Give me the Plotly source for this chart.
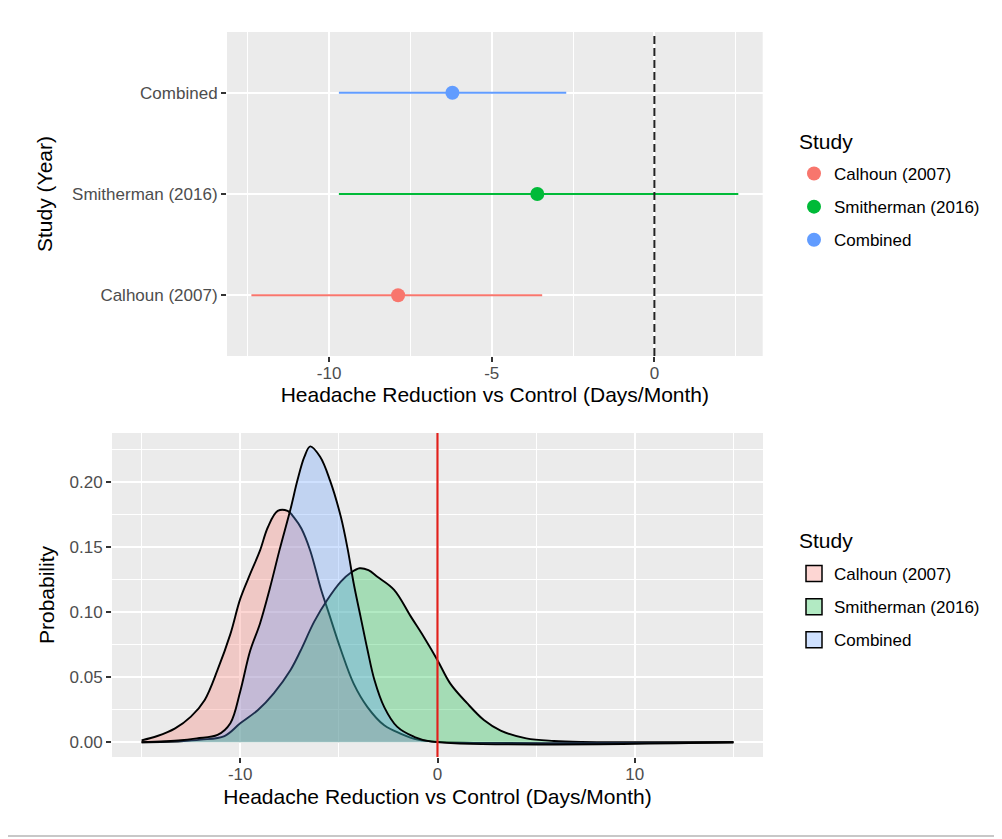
import plotly.graph_objects as go

# ---------------- data ----------------
studies = ["Calhoun (2007)", "Smitherman (2016)", "Combined"]
line_colors = ["#F8766D", "#00BA38", "#619CFF"]
fill_colors = ["rgba(248,118,109,0.30)", "rgba(0,186,56,0.30)", "rgba(97,156,255,0.30)"]

estimate = [-7.88, -3.60, -6.21]
ci_low = [-12.39, -9.70, -9.70]
ci_high = [-3.45, 2.58, -2.71]

calhoun_x = [-15, -14.2, -13.3, -12.5, -11.8, -11.15, -10.5, -10.0, -9.5, -9.0, -8.6, -8.1,
             -7.6, -7.25, -6.9, -6.45, -5.9, -5.55, -4.9, -4.25, -3.55, -2.7, -1.85, -1.0, 0, 15]
calhoun_y = [0.0015, 0.0048, 0.0107, 0.0197, 0.0325, 0.0555, 0.083, 0.110, 0.129, 0.147, 0.165, 0.1775,
             0.1775, 0.172, 0.164, 0.147, 0.117, 0.101, 0.071, 0.045, 0.027, 0.013, 0.0065, 0.002, 0.0003, 0.0]

smitherman_x = [-15, -13, -12, -10.8, -10.0, -9.1, -8.3, -7.45, -6.95, -6.25, -5.6, -4.9,
                -4.4, -3.95, -3.5, -3.05, -2.2, -1.35, -0.7, 0, 0.65, 1.5, 2.35, 3.2, 4.5, 5.9, 7.3, 15]
smitherman_y = [0.0, 0.0008, 0.002, 0.0048, 0.0146, 0.0248, 0.0376, 0.0555, 0.070, 0.0926, 0.109, 0.1233,
                0.130, 0.1335, 0.132, 0.127, 0.117, 0.0964, 0.081, 0.063, 0.045, 0.030, 0.0171, 0.009,
                0.003, 0.001, 0.0003, 0.0]

combined_x = [-15, -13, -12.2, -11.15, -10.5, -10.0, -9.5, -9.0, -8.5, -8.0, -7.45, -7.1,
              -6.75, -6.45, -5.95, -5.45, -4.9, -4.55, -4.25, -3.9, -3.55, -3.2, -2.7, -2.05,
              -1.2, -0.3, 15]
combined_y = [0.0, 0.0015, 0.003, 0.0056, 0.0146, 0.039, 0.070, 0.091, 0.118, 0.148, 0.179, 0.201,
              0.219, 0.227, 0.219, 0.201, 0.173, 0.148, 0.122, 0.0964, 0.071, 0.048, 0.027, 0.012,
              0.0043, 0.0005, 0.0]

density_x = [calhoun_x, smitherman_x, combined_x]
density_y = [calhoun_y, smitherman_y, combined_y]

x_title = "Headache Reduction vs Control (Days/Month)"
legend_title = "Study"
ref_line_x = 0

# ---------------- figure ----------------
OFF = 8  # page body margin of the html page
W, H = 994, 831
FONT = "Liberation Sans, Arial, sans-serif"


def px_x(p):
    return (p - OFF) / W


def px_y(p):
    return 1 - (p - OFF) / H


fig = go.Figure()

# top: point ranges
for i, s in enumerate(studies):
    fig.add_trace(go.Scatter(
        x=[estimate[i]], y=[s], mode="markers", name=s,
        marker=dict(color=line_colors[i], size=14),
        error_x=dict(type="data", symmetric=False,
                     array=[ci_high[i] - estimate[i]],
                     arrayminus=[estimate[i] - ci_low[i]],
                     width=0, thickness=2, color=line_colors[i]),
        xaxis="x", yaxis="y", legend="legend", legendgroup="t" + str(i),
    ))

# bottom: densities
for i, s in enumerate(studies):
    fig.add_trace(go.Scatter(
        x=density_x[i], y=density_y[i], mode="lines", name=s, showlegend=False,
        line=dict(color="black", width=1.9, shape="spline", smoothing=1.0),
        fill="tozeroy", fillcolor=fill_colors[i],
        xaxis="x2", yaxis="y2", legendgroup="b" + str(i),
    ))
# legend keys for the densities (filled boxes with black outline)
for i, s in enumerate(studies):
    fig.add_trace(go.Scatter(
        x=[None], y=[None], mode="markers", name=s,
        marker=dict(symbol="square", size=16, color=fill_colors[i],
                    line=dict(color="black", width=1.5)),
        xaxis="x2", yaxis="y2", legend="legend2", legendgroup="b" + str(i),
    ))

grid_major = dict(showgrid=True, gridcolor="white", gridwidth=2)
tick_style = dict(ticks="outside", ticklen=5, tickwidth=1.5, tickcolor="#333333",
                  tickfont=dict(size=17, color="#4D4D4D", family=FONT),
                  zeroline=False, showline=False)

fig.update_layout(
    width=W, height=H,
    margin=dict(l=0, r=0, t=0, b=0),
    paper_bgcolor="white",
    plot_bgcolor="#EBEBEB",
    font=dict(family=FONT, color="black"),
    xaxis=dict(domain=[px_x(227), px_x(762.7)], range=[-13.14, 3.33],
               tickvals=[-10, -5, 0], ticktext=["-10", "-5", "0"],
               minor=dict(tickvals=[-12.5, -7.5, -2.5, 2.5], showgrid=True,
                          gridcolor="white", gridwidth=1, ticks=""),
               title=dict(text=x_title, font=dict(size=21), standoff=4),
               ticklabelstandoff=-3,
               anchor="y", **grid_major, **tick_style),
    yaxis=dict(domain=[px_y(356), px_y(32)], type="category",
               categoryorder="array", categoryarray=studies, range=[-0.6, 2.6],
               title=dict(text="Study (Year)", font=dict(size=21), standoff=13),
               anchor="x", **grid_major, **tick_style),
    xaxis2=dict(domain=[px_x(112), px_x(763)], range=[-16.5, 16.5],
                tickvals=[-10, 0, 10], ticktext=["-10", "0", "10"],
                minor=dict(tickvals=[-15, -5, 5, 15], showgrid=True,
                           gridcolor="white", gridwidth=1, ticks=""),
                title=dict(text=x_title, font=dict(size=21), standoff=5),
                ticklabelstandoff=-3,
                anchor="y2", **grid_major, **tick_style),
    yaxis2=dict(domain=[px_y(757), px_y(433)], range=[-0.0113, 0.2373],
                tickvals=[0, 0.05, 0.10, 0.15, 0.20],
                ticktext=["0.00", "0.05", "0.10", "0.15", "0.20"],
                minor=dict(tickvals=[0.025, 0.075, 0.125, 0.175, 0.225], showgrid=True,
                           gridcolor="white", gridwidth=1, ticks=""),
                title=dict(text="Probability", font=dict(size=21), standoff=9),
                anchor="x2", **grid_major, **tick_style),
    legend=dict(x=px_x(794), y=px_y(156), xanchor="left", yanchor="top",
                font=dict(size=17, color="black"), bgcolor="rgba(0,0,0,0)",
                traceorder="grouped", tracegroupgap=8, itemwidth=30),
    legend2=dict(x=px_x(794), y=px_y(556), xanchor="left", yanchor="top",
                 font=dict(size=17, color="black"), bgcolor="rgba(0,0,0,0)",
                 traceorder="grouped", tracegroupgap=8, itemwidth=30),
    annotations=[
        dict(text=legend_title, xref="paper", yref="paper", x=px_x(797), y=px_y(141),
             xanchor="left", yanchor="middle", showarrow=False, font=dict(size=21)),
        dict(text=legend_title, xref="paper", yref="paper", x=px_x(797), y=px_y(540),
             xanchor="left", yanchor="middle", showarrow=False, font=dict(size=21)),
    ],
    shapes=[
        dict(type="line", xref="x", yref="y domain", x0=ref_line_x, x1=ref_line_x, y0=0, y1=1,
             line=dict(color="#222222", width=2, dash="8px,4px")),
        dict(type="line", xref="x2", yref="y2 domain", x0=ref_line_x, x1=ref_line_x, y0=0, y1=1,
             line=dict(color="#E0201B", width=2.2)),
        dict(type="rect", xref="paper", yref="paper", x0=px_x(5), x1=px_x(999),
             y0=px_y(836), y1=px_y(4), line=dict(color="#C8C8C8", width=2),
             fillcolor="rgba(0,0,0,0)", layer="above"),
    ],
)

fig.write_html("out.html")
